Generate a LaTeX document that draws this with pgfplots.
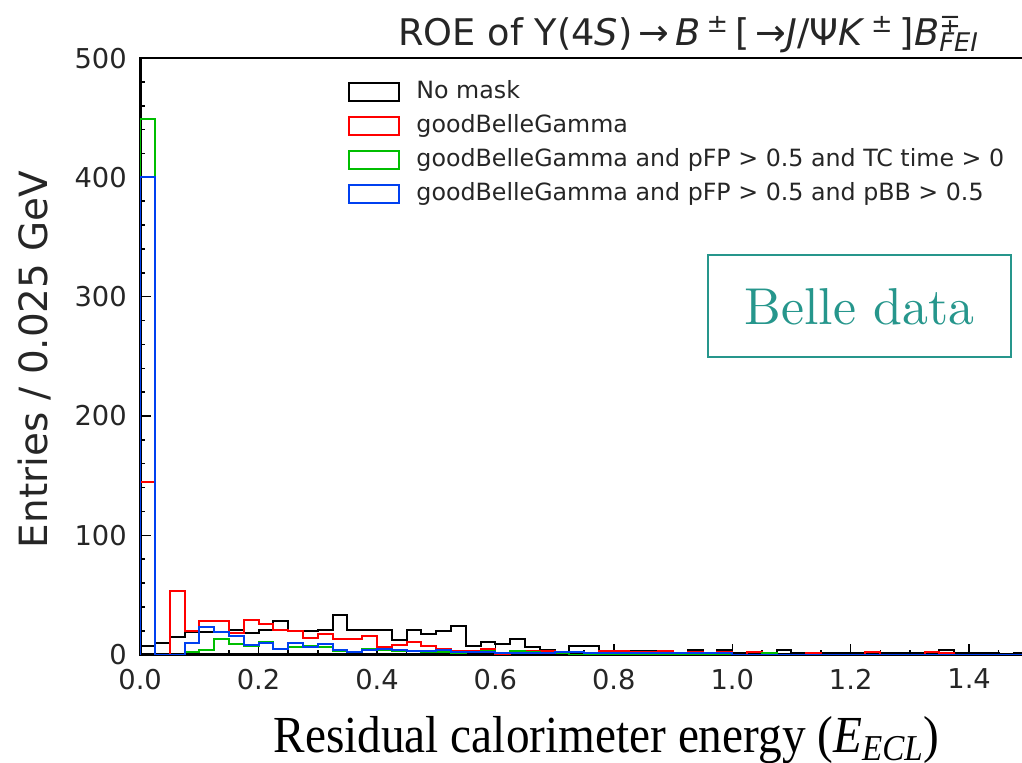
\documentclass[border=0pt]{standalone}
\usepackage{fontspec}
\setsansfont{DejaVu Sans}
\newfontfamily\timesfont{Liberation Serif}
\newfontfamily\tagfont{lmroman10-regular.otf}
\usepackage{graphicx}
\usepackage{pgfplots}
\pgfplotsset{compat=1.18}
\usepackage{pgfplotstable}

\definecolor{hblack}{RGB}{0,0,0}
\definecolor{hred}{RGB}{255,0,0}
\definecolor{hgreen}{RGB}{0,190,0}
\definecolor{hblue}{RGB}{0,64,240}
\definecolor{belleteal}{RGB}{38,150,140}
\definecolor{txt}{RGB}{38,38,38}

% Entries per 0.025 GeV bin (left bin edge in x)
\pgfplotstableread{
x     black red green blue
0.000 0   0   0   0
0.000 7   145 449 400
0.025 10  0   0   0
0.050 15  53  0   0
0.075 19  20  2   10
0.100 19  28  4   23
0.125 19  28  13  19
0.150 21  18  9   16
0.175 18  29  7   8
0.200 21  26  11  10
0.225 28  21  5   5
0.250 20  20  6   10
0.275 20  14  7   6
0.300 21  17  6   9
0.325 33  13  3   4
0.350 21  13  2   2
0.375 21  16  5   4
0.400 21  6   4   5
0.425 12  8   3   4
0.450 21  11  3   3
0.475 17  7   2   3
0.500 20  5   2   4
0.525 24  3   1   2
0.550 7   3   2   2
0.575 11  5   3   2
0.600 9   0   1   1
0.625 13  3   3   1
0.650 6   3   2   1
0.675 4   3   1   1
0.700 2   1   1   2
0.725 7   0   0   2
0.750 7   0   0   1
0.775 3   3   0   1
0.800 3   3   0   1
0.825 3   2   0   1
0.850 3   2   0   1
0.875 3   3   0   1
0.900 1   1   0   1
0.925 4   2   0   1
0.950 1   0   0   1
0.975 4   2   0   1
1.000 1   0   0   0
1.025 1   2   0   0
1.050 1   0   1   0
1.075 4   0   0   0
1.100 1   0   0   0
1.125 1   1   0   0
1.150 1   0   0   0
1.175 1   0   0   0
1.200 1   0   0   0
1.225 1   2   0   0
1.250 1   0   0   0
1.275 1   0   0   0
1.300 1   0   0   0
1.325 1   2   0   0
1.350 4   1   0   0
1.375 1   0   0   0
1.400 1   0   0   0
1.425 1   0   0   0
1.450 0   0   0   0
1.475 1   0   0   0
1.500 1   0   0   0
1.500 0   0   0   0
}\histo

\begin{document}
\begin{tikzpicture}
\begin{axis}[
  at={(0,0)}, anchor=south west,
  scale only axis, width=443.65bp, height=298bp,
  xmin=0, xmax=1.5, ymin=0, ymax=500,
  const plot,
  xtick={0,0.2,0.4,0.6,0.8,1.0,1.2,1.4},
  minor xtick={0.05,0.1,0.15,0.25,0.3,0.35,0.45,0.5,0.55,0.65,0.7,0.75,0.85,0.9,0.95,1.05,1.1,1.15,1.25,1.3,1.35,1.45},
  ytick={0,100,200,300,400,500},
  minor y tick num=4,
  xtick pos=left, ytick pos=left,
  tick align=inside,
  major tick length=5.5bp, minor tick length=2.5bp,
  tick style={line width=0.75bp, black},
  axis line style={line width=1.4bp, black},
  scaled x ticks=false,
  x tick label style={/pgf/number format/fixed, /pgf/number format/fixed zerofill, /pgf/number format/precision=1},
  /pgf/number format/assume math mode=true,
  tick label style={font=\sffamily\fontsize{13.7}{16}\selectfont, text=txt},
  xticklabel style={inner ysep=0pt, yshift=-7bp},
  yticklabel style={inner xsep=0pt, xshift=-6.5bp},
  legend style={at={(0.234,0.963)}, anchor=north west, draw=none, fill=none,
    inner sep=0pt, row sep=5.5bp, column sep=8bp,
    font=\sffamily\fontsize{11.9}{14}\selectfont, text=txt,
    nodes={inner sep=0pt, text height=9bp, text depth=2.5bp}},
  legend cell align=left,
  legend image code/.code={\draw[#1, line width=1bp] (0bp,-4.5bp) rectangle (25bp,4.5bp);},
]
\addplot[hblack, line width=1bp] table[x=x, y=black] {\histo};
\addlegendentry{No mask}
\addplot[hred, line width=1bp] table[x=x, y=red] {\histo};
\addlegendentry{goodBelleGamma}
\addplot[hgreen, line width=1bp] table[x=x, y=green] {\histo};
\addlegendentry{goodBelleGamma and pFP > 0.5 and TC time > 0}
\addplot[hblue, line width=1bp] table[x=x, y=blue] {\histo};
\addlegendentry{goodBelleGamma and pFP > 0.5 and pBB > 0.5}
\end{axis}

% title
\node[anchor=base, font=\sffamily\fontsize{18.4}{21}\selectfont, text=txt] at (274bp,304.5bp)
  {ROE of Υ(4\textit{S})\,→\,\textit{B}\,\textsuperscript{±}\,[\,→\textit{J}/Ψ\textit{K}\,\textsuperscript{±}\,]\textit{B}\rlap{\textsuperscript{∓}}\textsubscript{\textit{FEI}}};

% y label
\node[rotate=90, anchor=base, font=\sffamily\fontsize{19.5}{22}\selectfont, text=txt] at (-46.5bp,147.5bp)
  {Entries / 0.025 GeV};

% x label
\node[anchor=base, font=\timesfont\fontsize{23.7}{27}\selectfont] at (233bp,-49bp)
  {\scalebox{1}[1.1]{Residual calorimeter energy (\textit{E}\textsubscript{\textit{ECL}})}};

% data tag
\node[draw=belleteal, line width=0.9bp, minimum width=151.5bp, minimum height=51bp, inner sep=0pt,
  text=belleteal, font=\tagfont\fontsize{26}{30}\selectfont] at (359.25bp,174bp) {Belle data};

\pgfresetboundingbox
\path[use as bounding box] (-70bp,-54bp) rectangle (440.5bp,327bp);
\end{tikzpicture}
\end{document}
